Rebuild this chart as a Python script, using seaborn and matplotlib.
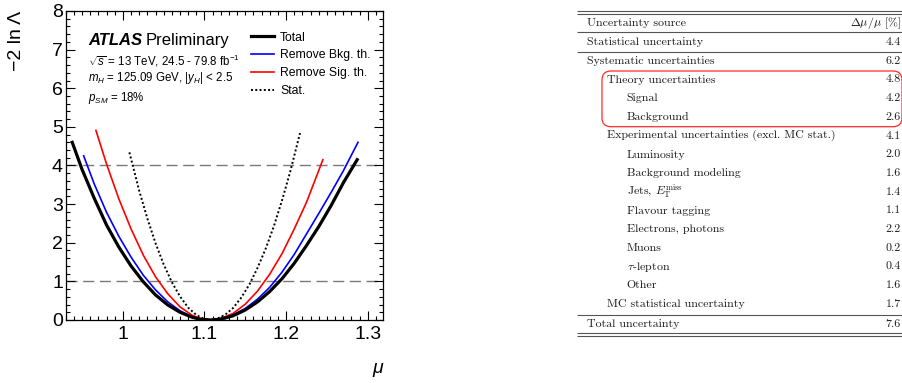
import matplotlib
matplotlib.use("Agg")
import matplotlib.pyplot as plt
import numpy as np
import pandas as pd
import seaborn as sns
from matplotlib.patches import FancyBboxPatch
from matplotlib.ticker import MultipleLocator

# ---------------- data ----------------
mu_total = [0.938, 0.950, 0.965, 0.980, 0.995, 1.010, 1.025, 1.040, 1.055, 1.070, 1.085, 1.095, 1.107,
            1.120, 1.135, 1.150, 1.165, 1.180, 1.195, 1.210, 1.225, 1.240, 1.255, 1.270, 1.287]
nll_total = [4.60, 3.90, 3.15, 2.46, 1.89, 1.40, 0.99, 0.65, 0.39, 0.20, 0.07, 0.02, 0.00,
             0.02, 0.11, 0.26, 0.47, 0.74, 1.07, 1.47, 1.93, 2.42, 2.96, 3.55, 4.15]

mu_nobkg = [0.952, 0.965, 0.980, 0.995, 1.010, 1.025, 1.040, 1.055, 1.070, 1.085, 1.095, 1.107,
            1.120, 1.135, 1.150, 1.165, 1.180, 1.195, 1.210, 1.225, 1.240, 1.255, 1.270, 1.288]
nll_nobkg = [4.25, 3.52, 2.79, 2.17, 1.63, 1.16, 0.78, 0.47, 0.24, 0.08, 0.02, 0.00,
             0.03, 0.13, 0.30, 0.54, 0.85, 1.24, 1.70, 2.23, 2.76, 3.30, 3.86, 4.60]

mu_nosig = [0.967, 0.980, 0.995, 1.010, 1.025, 1.040, 1.055, 1.070, 1.085, 1.095, 1.107,
            1.120, 1.135, 1.150, 1.165, 1.180, 1.195, 1.210, 1.225, 1.245]
nll_nosig = [4.91, 4.04, 3.14, 2.36, 1.68, 1.12, 0.68, 0.34, 0.12, 0.04, 0.00,
             0.04, 0.17, 0.41, 0.75, 1.19, 1.72, 2.36, 3.05, 4.15]

mu_stat = [1.008, 1.020, 1.030, 1.040, 1.050, 1.060, 1.070, 1.080, 1.090, 1.100, 1.107,
           1.115, 1.125, 1.135, 1.145, 1.155, 1.165, 1.175, 1.185, 1.195, 1.205, 1.217]
nll_stat = [4.34, 3.35, 2.63, 1.99, 1.44, 0.98, 0.61, 0.32, 0.13, 0.02, 0.00,
            0.03, 0.13, 0.31, 0.58, 0.92, 1.35, 1.85, 2.43, 3.10, 3.84, 4.84]

curve_labels = ["Total", "Remove Bkg. th.", "Remove Sig. th.", "Stat."]
ref_levels = [1, 4]

x_ticks = [1.0, 1.1, 1.2, 1.3]
x_ticklabels = ["1", "1.1", "1.2", "1.3"]
y_ticks = [0, 1, 2, 3, 4, 5, 6, 7, 8]

table_header = ["Uncertainty source", r"$\Delta\mu/\mu$ [%]"]
table_sources = ["Statistical uncertainty", "Systematic uncertainties", "Theory uncertainties",
                 "Signal", "Background", "Experimental uncertainties (excl. MC stat.)",
                 "Luminosity", "Background modeling", r"Jets, $E_{\mathrm{T}}^{\mathrm{miss}}$",
                 "Flavour tagging", "Electrons, photons", "Muons", r"$\tau$-lepton", "Other",
                 "MC statistical uncertainty", "Total uncertainty"]
table_values = ["4.4", "6.2", "4.8", "4.2", "2.6", "4.1", "2.0", "1.6", "1.4", "1.1",
                "2.2", "0.2", "0.4", "1.6", "1.7", "7.6"]
table_indent = [0, 0, 1, 2, 2, 1, 2, 2, 2, 2, 2, 2, 2, 2, 1, 0]

# ---------------- style ----------------
plt.rcParams['font.family'] = ['Liberation Sans', 'DejaVu Sans']
plt.rcParams['mathtext.fontset'] = 'custom'
plt.rcParams['mathtext.rm'] = 'Liberation Sans'
plt.rcParams['mathtext.it'] = 'Liberation Sans:italic'
plt.rcParams['mathtext.bf'] = 'Liberation Sans:bold'

W, H = 903, 383
fig = plt.figure(figsize=(W / 100, H / 100), dpi=100)
ax = fig.add_axes([65.7 / W, 1 - 320 / H, (383.3 - 65.7) / W, (320 - 11) / H])

for lv in ref_levels:
    ax.axhline(lv, color='#7a7a7a', lw=1.0, dashes=(8, 4), zorder=1)

frames = []
for lab, m, v in zip(curve_labels,
                     [mu_total, mu_nobkg, mu_nosig, mu_stat],
                     [nll_total, nll_nobkg, nll_nosig, nll_stat]):
    frames.append(pd.DataFrame({"mu": m, "nll": v, "curve": lab}))
df = pd.concat(frames, ignore_index=True)

styles = {
    "Total": dict(color='black', lw=2.3, ls='-', z=5),
    "Remove Bkg. th.": dict(color='#0000ff', lw=1.2, ls='-', z=4),
    "Remove Sig. th.": dict(color='#ff0000', lw=1.2, ls='-', z=3),
    "Stat.": dict(color='black', lw=1.4, ls=(0, (1, 1.2)), z=2),
}
for lab in curve_labels:
    s = styles[lab]
    sns.lineplot(data=df[df.curve == lab], x="mu", y="nll", ax=ax, color=s['color'],
                 lw=s['lw'], linestyle=s['ls'], zorder=s['z'], label=lab, sort=True,
                 estimator=None)

ax.set_xlim(0.93, 1.319)
ax.set_ylim(0, 8)
ax.set_xticks(x_ticks)
ax.set_xticklabels(x_ticklabels)
ax.set_yticks(y_ticks)
ax.xaxis.set_minor_locator(MultipleLocator(0.01))
ax.yaxis.set_minor_locator(MultipleLocator(0.2))
ax.tick_params(which='both', direction='in', top=True, right=True, width=0.8)
ax.tick_params(which='major', length=6.5, labelsize=14)
ax.tick_params(which='minor', length=3.2)
ax.tick_params(axis='y', pad=2)
ax.tick_params(axis='x', pad=4)
for sp in ax.spines.values():
    sp.set_linewidth(0.9)

ax.set_ylabel("\u22122 ln \u039b", fontsize=14, loc='top')
ax.yaxis.set_label_coords(-0.128, 1.0)
ax.set_xlabel("\u03bc", fontsize=14, style='italic', loc='right')
ax.xaxis.set_label_coords(1.0, -0.13)

leg = ax.legend(loc='upper left', bbox_to_anchor=(0.583, 0.933), frameon=False, fontsize=8.8,
                handlelength=1.9, handletextpad=0.5, labelspacing=0.47, borderaxespad=0,
                borderpad=0)

t1 = ax.text(0.07, 0.891, "ATLAS", transform=ax.transAxes, fontsize=12, va='baseline',
             fontweight='bold', style='italic')
fig.canvas.draw()
bb = t1.get_window_extent()
inv = ax.transAxes.inverted()
xend = inv.transform((bb.x1, bb.y0))[0]
ax.text(xend + 0.012, 0.891, "Preliminary", transform=ax.transAxes, fontsize=12, va='baseline')
ax.text(0.07, 0.825, r"$\sqrt{s}$ = 13 TeV, 24.5 - 79.8 fb$^{-1}$", transform=ax.transAxes,
        fontsize=8.3, va='baseline')
ax.text(0.07, 0.772, r"$m_{H}$ = 125.09 GeV, $|y_{H}|$ < 2.5", transform=ax.transAxes,
        fontsize=8.3, va='baseline')
ax.text(0.07, 0.71, r"$p_{SM}$ = 18%", transform=ax.transAxes, fontsize=8.3, va='baseline')

# ---------------- table ----------------
tax = fig.add_axes([0, 0, 1, 1])
tax.set_xlim(0, W)
tax.set_ylim(H, 0)
tax.axis('off')

x0, x1 = 577, 903
xl = 586.7
ind = 20
xr = 901
lc = '#555555'
tfs = 8.6
tcol = '#1a1a1a'
for y in [11, 13.5, 32.3, 51.7, 315, 333.3, 335.8]:
    tax.plot([x0, x1], [y, y], color=lc, lw=0.8, solid_capstyle='butt')

tprop = dict(fontsize=tfs, family='cmr10', math_fontfamily='cm', color=tcol, va='center')
tax.text(xl, 23.3, table_header[0], ha='left', **tprop)
tax.text(xr, 23.3, table_header[1], ha='right', **tprop)
n = len(table_sources)
for i, (src, val, lev) in enumerate(zip(table_sources, table_values, table_indent)):
    y = 42.3 + 18.7 * i if i < n - 1 else 324.2
    tax.text(xl + ind * lev, y, src, ha='left', **tprop)
    tax.text(xr, y, val, ha='right', **tprop)

box = FancyBboxPatch((602, 71), 300, 55.7, boxstyle='round,pad=0,rounding_size=9',
                     fill=False, edgecolor='#ff2a2a', lw=0.9)
tax.add_patch(box)

fig.savefig("out.png", dpi=100)
